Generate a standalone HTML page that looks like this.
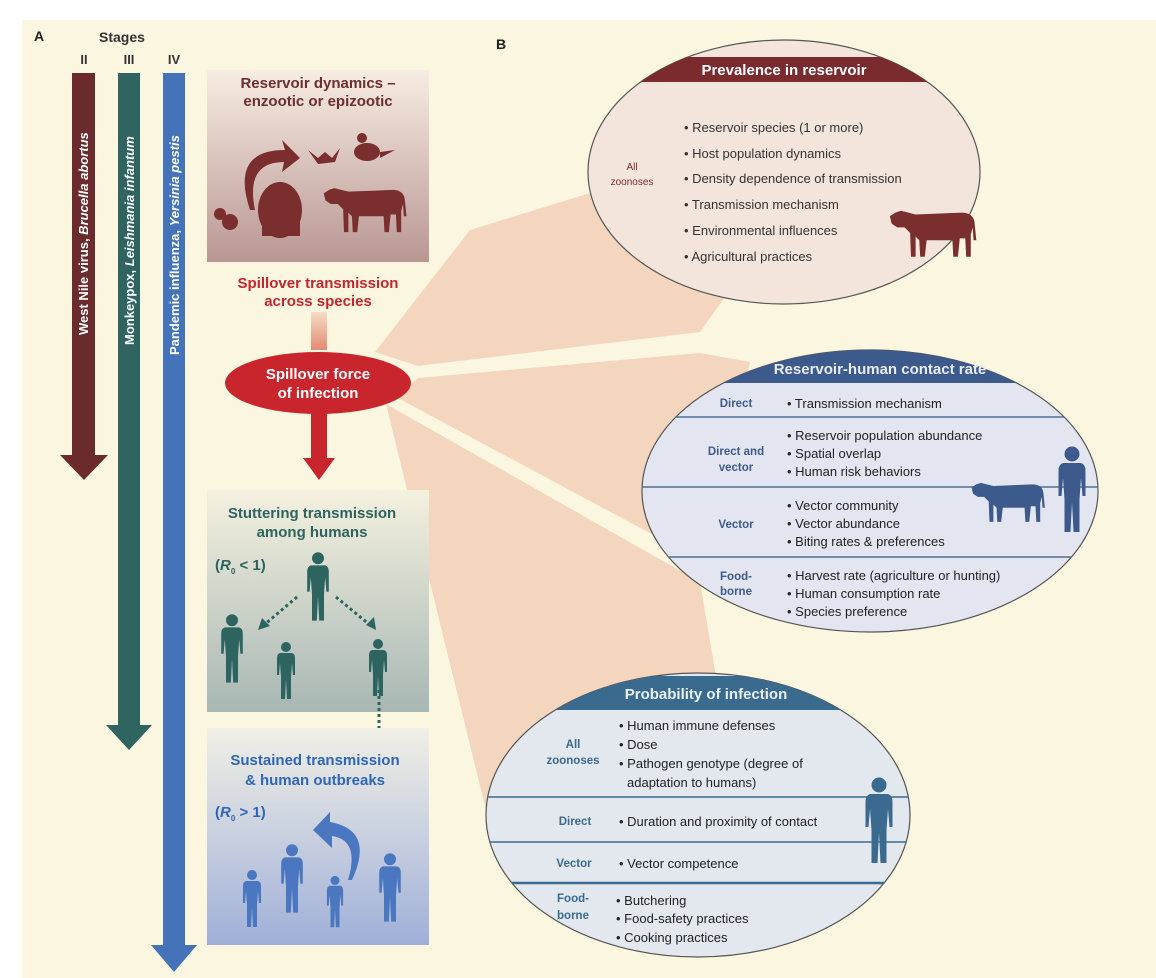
<!DOCTYPE html>
<html><head><meta charset="utf-8"><style>
body{margin:0;background:#fff}
svg{display:block;font-family:"Liberation Sans",sans-serif}
</style></head><body>
<svg width="1156" height="978" viewBox="0 0 1156 978" xmlns="http://www.w3.org/2000/svg">
<defs>
<symbol id="p" viewBox="0 0 20 60">
<circle cx="10" cy="6" r="5"/>
<path d="M4 12 H16 Q19 13 19 17 L19 34 L17 34 L16 22 L15 36 L15 58 L11 58 L10 38 L9 58 L5 58 L5 36 L4 22 L3 34 L1 34 L1 17 Q1 13 4 12Z"/>
</symbol>
<symbol id="cow" viewBox="0 0 100 60">
<path d="M14 8 L30 12 L80 10 Q92 10 94 20 L96 40 L93 40 L92 26 L90 34 L90 58 L85 58 L84 38 L78 38 L76 58 L71 58 L70 40 L42 40 L40 58 L35 58 L34 40 L30 36 L30 58 L25 58 L24 32 L18 26 L10 26 L4 22 L2 14 L8 10Z"/>
</symbol>
<linearGradient id="g1" x1="0" y1="0" x2="0" y2="1"><stop offset="0" stop-color="#f7ede3"/><stop offset="1" stop-color="#b99693"/></linearGradient>
<linearGradient id="g2" x1="0" y1="0" x2="0" y2="1"><stop offset="0" stop-color="#f4f1df"/><stop offset="1" stop-color="#a8b7b4"/></linearGradient>
<linearGradient id="g3" x1="0" y1="0" x2="0" y2="1"><stop offset="0" stop-color="#f1f0e6"/><stop offset="1" stop-color="#9fafd8"/></linearGradient>
<linearGradient id="gs" x1="0" y1="0" x2="0" y2="1"><stop offset="0" stop-color="#f6dcc4"/><stop offset="1" stop-color="#e38a73"/></linearGradient>
<clipPath id="c1"><ellipse cx="784" cy="172" rx="196" ry="132"/></clipPath>
<clipPath id="c2"><ellipse cx="870" cy="491" rx="228" ry="141"/></clipPath>
<clipPath id="c3"><ellipse cx="698" cy="815" rx="212" ry="142"/></clipPath>
</defs>
<rect x="22" y="20" width="1134" height="958" fill="#fbf6df"/>
<!-- fans -->
<g fill="#f4d6bf">
<polygon points="375,352 470,230 600,190 760,260 730,290 700,332 418,366"/>
<polygon points="418,378 700,353 750,362 700,560 396,397"/>
<polygon points="386,404 700,582 720,700 600,690 486,810"/>
</g>
<text x="34" y="41" font-size="14" font-weight="bold" fill="#222">A</text>
<text x="99" y="42" font-size="14" font-weight="bold" fill="#333">Stages</text>
<text x="496" y="49" font-size="14" font-weight="bold" fill="#222">B</text>
<g font-size="13" font-weight="bold" fill="#333" text-anchor="middle">
<text x="84" y="64">II</text><text x="129" y="64">III</text><text x="174" y="64">IV</text></g>
<!-- stage arrows -->
<path d="M72 73 H95 V455 H108 L84 480 L60 455 H72Z" fill="#6b2a2c"/>
<path d="M118 73 H140 V725 H152 L129 750 L106 725 H118Z" fill="#2f6461"/>
<path d="M163 73 H185 V945 H197 L174 972 L151 945 H163Z" fill="#4473ba"/>
<g font-size="13" font-weight="bold" fill="#fff">
<text transform="translate(88,335) rotate(-90)">West Nile virus, <tspan font-style="italic">Brucella abortus</tspan></text>
<text transform="translate(134,345) rotate(-90)">Monkeypox, <tspan font-style="italic">Leishmania infantum</tspan></text>
<text transform="translate(179,355) rotate(-90)">Pandemic influenza, <tspan font-style="italic">Yersinia pestis</tspan></text>
</g>
<!-- reservoir box -->
<rect x="207" y="70" width="222" height="192" fill="url(#g1)"/>
<g font-size="15" font-weight="bold" fill="#6e2e2e" text-anchor="middle">
<text x="318" y="88">Reservoir dynamics –</text><text x="318" y="106">enzootic or epizootic</text></g>
<g fill="#7a2e2e">
<path d="M250 210 Q230 150 285 150 L282 140 L300 158 L282 172 L284 162 Q245 162 255 210Z"/>
<path d="M308 150 L318 158 L325 152 L332 158 L340 148 L335 162 L318 164Z"/>
<ellipse cx="367" cy="152" rx="13" ry="9"/><circle cx="362" cy="138" r="5"/><polygon points="380,152 395,150 380,158"/>
<ellipse cx="280" cy="210" rx="22" ry="28"/><rect x="262" y="215" width="12" height="21"/><rect x="288" y="215" width="12" height="21"/>
<use href="#cow" x="322" y="180" width="88" height="55"/>
<circle cx="230" cy="222" r="8"/><circle cx="220" cy="214" r="6"/>
</g>
<g font-size="15" font-weight="bold" fill="#c2262e" text-anchor="middle">
<text x="318" y="288">Spillover transmission</text><text x="318" y="306">across species</text></g>
<rect x="311" y="312" width="16" height="38" fill="url(#gs)"/>
<ellipse cx="318" cy="383" rx="93" ry="31" fill="#c9252c"/>
<g font-size="15" font-weight="bold" fill="#fff" text-anchor="middle">
<text x="318" y="379">Spillover force</text><text x="318" y="398">of infection</text></g>
<path d="M311 412 H327 V458 H335 L319 480 L303 458 H311Z" fill="#c9252c"/>
<!-- stuttering box -->
<rect x="207" y="490" width="222" height="222" fill="url(#g2)"/>
<g font-size="15" font-weight="bold" fill="#2d6460" text-anchor="middle">
<text x="312" y="518">Stuttering transmission</text><text x="312" y="537">among humans</text></g>
<text x="215" y="570" font-size="15" font-weight="bold" fill="#2d6460">(<tspan font-style="italic">R</tspan><tspan font-size="8" dy="4">0</tspan><tspan dy="-4"> &lt; 1)</tspan></text>
<g fill="#2d6460">
<use href="#p" x="306" y="550" width="24" height="74"/>
<use href="#p" x="220" y="612" width="24" height="74"/>
<use href="#p" x="276" y="640" width="20" height="62"/>
<use href="#p" x="368" y="638" width="20" height="60"/>
</g>
<g stroke="#2d6460" stroke-width="3" stroke-dasharray="3,3" fill="none">
<line x1="297" y1="597" x2="264" y2="625"/><line x1="336" y1="597" x2="370" y2="625"/><line x1="379" y1="690" x2="379" y2="742"/></g>
<g fill="#2d6460"><polygon points="258,630 262,618 270,626"/><polygon points="376,630 366,625 374,617"/><polygon points="373,740 385,740 379,750"/></g>
<!-- sustained box -->
<rect x="207" y="728" width="222" height="217" fill="url(#g3)"/>
<g font-size="15" font-weight="bold" fill="#2f66b8" text-anchor="middle">
<text x="315" y="765">Sustained transmission</text><text x="315" y="785">&amp; human outbreaks</text></g>
<text x="215" y="817" font-size="15" font-weight="bold" fill="#2f66b8">(<tspan font-style="italic">R</tspan><tspan font-size="8" dy="4">0</tspan><tspan dy="-4"> &gt; 1)</tspan></text>
<g fill="#4a77c0">
<path d="M352 880 Q375 830 330 822 L330 812 L313 830 L332 848 L332 836 Q360 840 348 880Z"/>
<use href="#p" x="242" y="868" width="20" height="62"/>
<use href="#p" x="280" y="840" width="24" height="78"/>
<use href="#p" x="326" y="874" width="18" height="56"/>
<use href="#p" x="378" y="852" width="24" height="72"/>
</g>
<!-- ellipse 1 -->
<ellipse cx="784" cy="172" rx="196" ry="132" fill="#f3e5dc" stroke="#555" stroke-width="1.2"/>
<rect x="580" y="57" width="410" height="25" fill="#7a2b2d" clip-path="url(#c1)"/>
<text x="784" y="75" font-size="15" font-weight="bold" fill="#fff" text-anchor="middle">Prevalence in reservoir</text>
<g font-size="10" fill="#7a2b2d" text-anchor="middle"><text x="632" y="170">All</text><text x="632" y="185">zoonoses</text></g>
<g font-size="13" fill="#333">
<text x="684" y="132">• Reservoir species (1 or more)</text>
<text x="684" y="158">• Host population dynamics</text>
<text x="684" y="183">• Density dependence of transmission</text>
<text x="684" y="209">• Transmission mechanism</text>
<text x="684" y="235">• Environmental influences</text>
<text x="684" y="261">• Agricultural practices</text></g>
<g fill="#7a2e2e"><use href="#cow" x="888" y="200" width="92" height="62"/></g>
<!-- ellipse 2 -->
<ellipse cx="870" cy="491" rx="228" ry="141" fill="#e3e6f0" stroke="#555" stroke-width="1.2"/>
<g clip-path="url(#c2)">
<rect x="640" y="350" width="460" height="33" fill="#3d5a8c"/>
<g stroke="#4e6e94" stroke-width="1.5"><line x1="640" y1="417" x2="1100" y2="417"/><line x1="640" y1="487" x2="1100" y2="487"/><line x1="640" y1="557" x2="1100" y2="557"/></g>
</g>
<text x="880" y="374" font-size="15" font-weight="bold" fill="#e8ecf5" text-anchor="middle">Reservoir-human contact rate</text>
<g font-size="11.5" font-weight="bold" fill="#3d5a8c" text-anchor="middle">
<text x="736" y="407">Direct</text>
<text x="736" y="455">Direct and</text><text x="736" y="471">vector</text>
<text x="736" y="528">Vector</text>
<text x="736" y="580">Food-</text><text x="736" y="595">borne</text></g>
<g font-size="13" fill="#222">
<text x="787" y="408">• Transmission mechanism</text>
<text x="787" y="440">• Reservoir population abundance</text>
<text x="787" y="458">• Spatial overlap</text>
<text x="787" y="476">• Human risk behaviors</text>
<text x="787" y="510">• Vector community</text>
<text x="787" y="528">• Vector abundance</text>
<text x="787" y="546">• Biting rates &amp; preferences</text>
<text x="787" y="580">• Harvest rate (agriculture or hunting)</text>
<text x="787" y="598">• Human consumption rate</text>
<text x="787" y="616">• Species preference</text></g>
<g fill="#3d5a8c"><use href="#cow" x="970" y="472" width="78" height="56"/><use href="#p" x="1057" y="444" width="30" height="92"/></g>
<!-- ellipse 3 -->
<ellipse cx="698" cy="815" rx="212" ry="142" fill="#e3e7ee" stroke="#555" stroke-width="1.2"/>
<g clip-path="url(#c3)">
<rect x="480" y="676" width="440" height="34" fill="#3a6b8f"/>
<g stroke="#3a6b8f" stroke-width="1.5"><line x1="480" y1="797" x2="920" y2="797"/><line x1="480" y1="842" x2="920" y2="842"/><line x1="480" y1="883" x2="920" y2="883" stroke-width="2.5"/></g>
</g>
<text x="706" y="699" font-size="15" font-weight="bold" fill="#e8eff5" text-anchor="middle">Probability of infection</text>
<g font-size="11.5" font-weight="bold" fill="#3a6b8f" text-anchor="middle">
<text x="573" y="748">All</text><text x="573" y="764">zoonoses</text>
<text x="575" y="825">Direct</text>
<text x="574" y="867">Vector</text>
<text x="573" y="902">Food-</text><text x="573" y="919">borne</text></g>
<g font-size="13" fill="#222">
<text x="619" y="730">• Human immune defenses</text>
<text x="619" y="749">• Dose</text>
<text x="619" y="768">• Pathogen genotype (degree of</text>
<text x="627" y="787">adaptation to humans)</text>
<text x="619" y="826">• Duration and proximity of contact</text>
<text x="619" y="868">• Vector competence</text>
<text x="616" y="905">• Butchering</text>
<text x="616" y="923">• Food-safety practices</text>
<text x="616" y="942">• Cooking practices</text></g>
<g fill="#3a6b8f"><use href="#p" x="864" y="768" width="30" height="106"/></g>
</svg>
</body></html>
